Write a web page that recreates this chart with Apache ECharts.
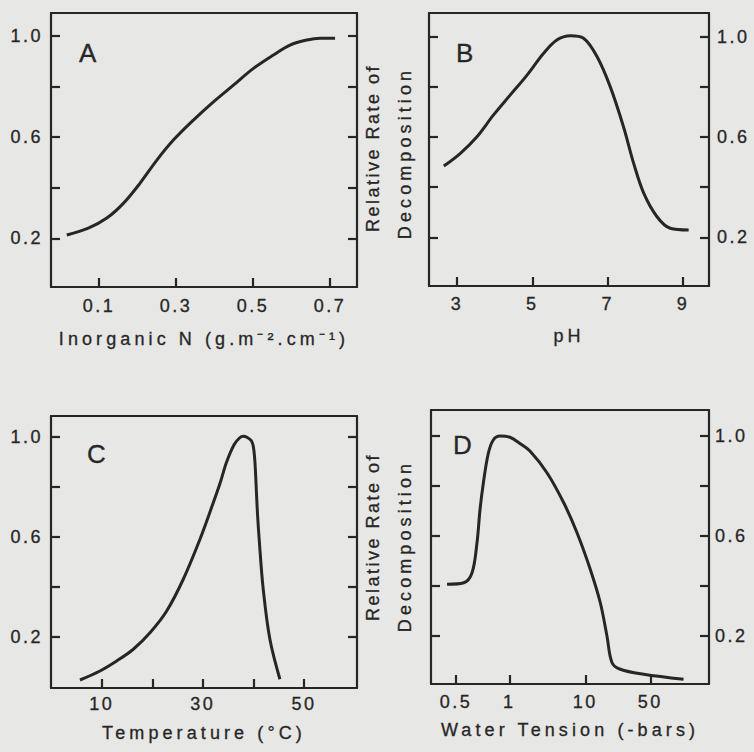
<!DOCTYPE html>
<html><head><meta charset="utf-8">
<title>Relative Rate of Decomposition</title>
<style>
html,body{margin:0;padding:0;background:#e7e7e5;}
#chart{width:754px;height:752px;}
#chart svg text{letter-spacing:2.5px;}
#chart svg text[style*="18.01px"]{letter-spacing:4.1px;}
</style>
<script src="https://cdn.jsdelivr.net/npm/echarts@6.0.0/dist/echarts.min.js"></script>
</head><body>
<div id="chart"></div>
<script>
// ---------- data ----------
// Panel A: inorganic N (g.m-2.cm-1)
const nitrogenX    = [0.016,0.072,0.12,0.163,0.206,0.25,0.293,0.345,0.397,0.449,0.501,0.553,0.596,0.64,0.674,0.713];
const nitrogenRate = [0.213,0.24,0.28,0.338,0.417,0.509,0.588,0.667,0.739,0.805,0.871,0.924,0.963,0.983,0.99,0.99];
// Panel B: pH
const phX    = [2.65,3.09,3.53,3.97,4.41,4.86,5.30,5.65,6.01,6.36,6.72,7.07,7.42,7.69,7.96,8.31,8.66,9.15];
const phRate = [0.484,0.535,0.601,0.688,0.767,0.847,0.934,0.987,1.004,0.994,0.92,0.80,0.641,0.495,0.375,0.282,0.236,0.229];
// Panel C: temperature (°C)
const temperatureX    = [5.71,9.66,12.96,16.25,19.55,22.85,26.13,29.43,32.06,33.4,34.7,36.2,37.3,38.0,38.8,39.6,40.0,40.3,40.55,40.8,41.15,41.94,43.26,45.24];
const temperatureRate = [0.028,0.064,0.104,0.151,0.217,0.304,0.431,0.591,0.737,0.815,0.9,0.97,0.997,1.003,0.998,0.985,0.96,0.9,0.8,0.695,0.588,0.391,0.191,0.031];
// Panel D: water tension (-bars)
const tensionBars = [0.445,0.553,0.616,0.657,0.683,0.713,0.761,0.812,0.886,1.02,1.38,1.87,3.13,5.2,7.78,11.3,14.5,17.1,19.4,23.8,42.5,114];
const tensionRate = [0.407,0.413,0.453,0.573,0.704,0.81,0.93,0.984,1.0,0.995,0.97,0.94,0.853,0.733,0.613,0.467,0.333,0.2,0.093,0.067,0.047,0.027];

// tick marks and tick labels
const rateTicks = [0.2,0.4,0.6,0.8,1.0];
const rateLabels = [0.2,0.6,1.0];
const nitrogenTicks = [0.1,0.3,0.5,0.7];
const phTicks = [3,5,7,9];
const temperatureTicks = [10,20,30,40,50];
const temperatureLabels = [10,30,50];
const tensionTicks = [0.5,1,10,50];
// printed (non-uniform) spacing of the water-tension tick marks, in axis units
const tensionTickPos = [0,1,2.426,3.645];

// ---------- helpers ----------
const INK = '#262626';
const FONT = 'Liberation Sans';
const lineStyle = {color: INK, width: 2.2};

function lg(v){ return Math.log(v) / Math.LN10; }
function tensionToAxis(v){
  const L = lg(v), a = tensionTicks.map(lg);
  const i = L <= a[1] ? 0 : (L <= a[2] ? 1 : 2);
  return tensionTickPos[i] + (L - a[i]) / (a[i+1] - a[i]) * (tensionTickPos[i+1] - tensionTickPos[i]);
}
function zip(xs, ys){ return xs.map((x, i) => [x, ys[i]]); }

const labelStyle = {color: INK, fontFamily: FONT, fontSize: 18, textBorderColor: INK, textBorderWidth: 0.3};
const nameStyle = {color: INK, fontFamily: FONT, fontSize: 18.01, lineHeight: 22, textBorderColor: INK, textBorderWidth: 0.3};

function xAxes(gi, min, max, ticks, labels, fmt, name, nameGap, margin){
  return [{
    type: 'value', gridIndex: gi, min: min, max: max, position: 'bottom',
    axisLine: {show: true, onZero: false, lineStyle: lineStyle},
    axisTick: {show: true, inside: true, length: 9, customValues: ticks, lineStyle: lineStyle},
    axisLabel: Object.assign({show: true, customValues: labels, formatter: fmt, margin: margin}, labelStyle),
    splitLine: {show: false},
    name: name, nameLocation: 'middle', nameGap: nameGap, nameMoveOverlap: false,
    nameTextStyle: nameStyle
  }, {
    type: 'value', gridIndex: gi, min: min, max: max, position: 'top',
    axisLine: {show: true, onZero: false, lineStyle: lineStyle},
    axisTick: {show: false}, axisLabel: {show: false}, splitLine: {show: false}
  }];
}
function yAxes(gi, min, max, labelSide, margin){
  const mk = side => ({
    type: 'value', gridIndex: gi, min: min, max: max, position: side,
    axisLine: {show: true, onZero: false, lineStyle: lineStyle},
    axisTick: {show: true, inside: true, length: 9, customValues: rateTicks, lineStyle: lineStyle},
    axisLabel: side === labelSide
      ? Object.assign({show: true, customValues: rateLabels, formatter: v => v.toFixed(1), margin: margin}, labelStyle)
      : {show: false},
    splitLine: {show: false}
  });
  return [mk('left'), mk('right')];
}
function curve(gi, data){
  return {
    type: 'line', xAxisIndex: gi * 2, yAxisIndex: gi * 2, data: data,
    showSymbol: false, smooth: 0.35, silent: true,
    lineStyle: {color: INK, width: 3}
  };
}

const tensionLabelFmt = v => {
  const i = tensionTickPos.findIndex(p => Math.abs(p - v) < 1e-6);
  return i >= 0 ? String(tensionTicks[i]) : '';
};

function letter(t, x, y){
  return {type: 'text', x: x, y: y, style: {text: t, fill: INK, stroke: INK, lineWidth: 0.3, font: '26px "Liberation Sans"', align: 'left', verticalAlign: 'middle'}};
}
function vtitle(t, x, y, size){
  return {type: 'text', x: x, y: y, rotation: Math.PI / 2, style: {text: t, fill: INK, stroke: INK, lineWidth: 0.3, font: size + 'px "Liberation Sans"', align: 'center', verticalAlign: 'middle'}};
}

const option = {
  backgroundColor: '#e7e7e5',
  animation: false,
  grid: [
    {left: 51, top: 13, width: 306, height: 274, outerBoundsMode: 'none'},
    {left: 429, top: 13, width: 280, height: 273, outerBoundsMode: 'none'},
    {left: 51, top: 416, width: 306, height: 272, outerBoundsMode: 'none'},
    {left: 431, top: 410, width: 278, height: 274, outerBoundsMode: 'none'}
  ],
  xAxis: [].concat(
    xAxes(0, -0.025, 0.77, nitrogenTicks, nitrogenTicks, v => v.toFixed(1), 'Inorganic N (g.m\u207B\u00B2.cm\u207B\u00B9)', 41, 10),
    xAxes(1, 2.257, 9.69, phTicks, phTicks, v => String(v), 'pH', 39, 9),
    xAxes(2, -0.02, 60.48, temperatureTicks, temperatureLabels, v => String(v), 'Temperature (\u00B0C)', 34, 7),
    xAxes(3, -0.469, 4.747, tensionTicks.map(tensionToAxis), tensionTicks.map(tensionToAxis), tensionLabelFmt, 'Water Tension (-bars)', 35, 9)
  ),
  yAxis: [].concat(
    yAxes(0, 0.008, 1.0896, 'left', 8),
    yAxes(1, 0.0058, 1.0945, 'right', 8),
    yAxes(2, -0.004, 1.084, 'left', 8),
    yAxes(3, 0.008, 1.104, 'right', 6)
  ),
  series: [
    curve(0, zip(nitrogenX, nitrogenRate)),
    curve(1, zip(phX, phRate)),
    curve(2, zip(temperatureX, temperatureRate)),
    curve(3, zip(tensionBars.map(tensionToAxis), tensionRate))
  ],
  graphic: [
    letter('A', 79, 53), letter('B', 456, 53), letter('C', 87, 454), letter('D', 453, 445),
    vtitle('Relative Rate of', 373, 148, 18), vtitle('Decomposition', 405, 153, 18.01),
    vtitle('Relative Rate of', 373, 537, 18), vtitle('Decomposition', 405, 546, 18.01)
  ]
};

const chart = echarts.init(document.getElementById('chart'), null, {renderer: 'svg', width: 754, height: 752});
chart.setOption(option);
</script>
</body></html>
